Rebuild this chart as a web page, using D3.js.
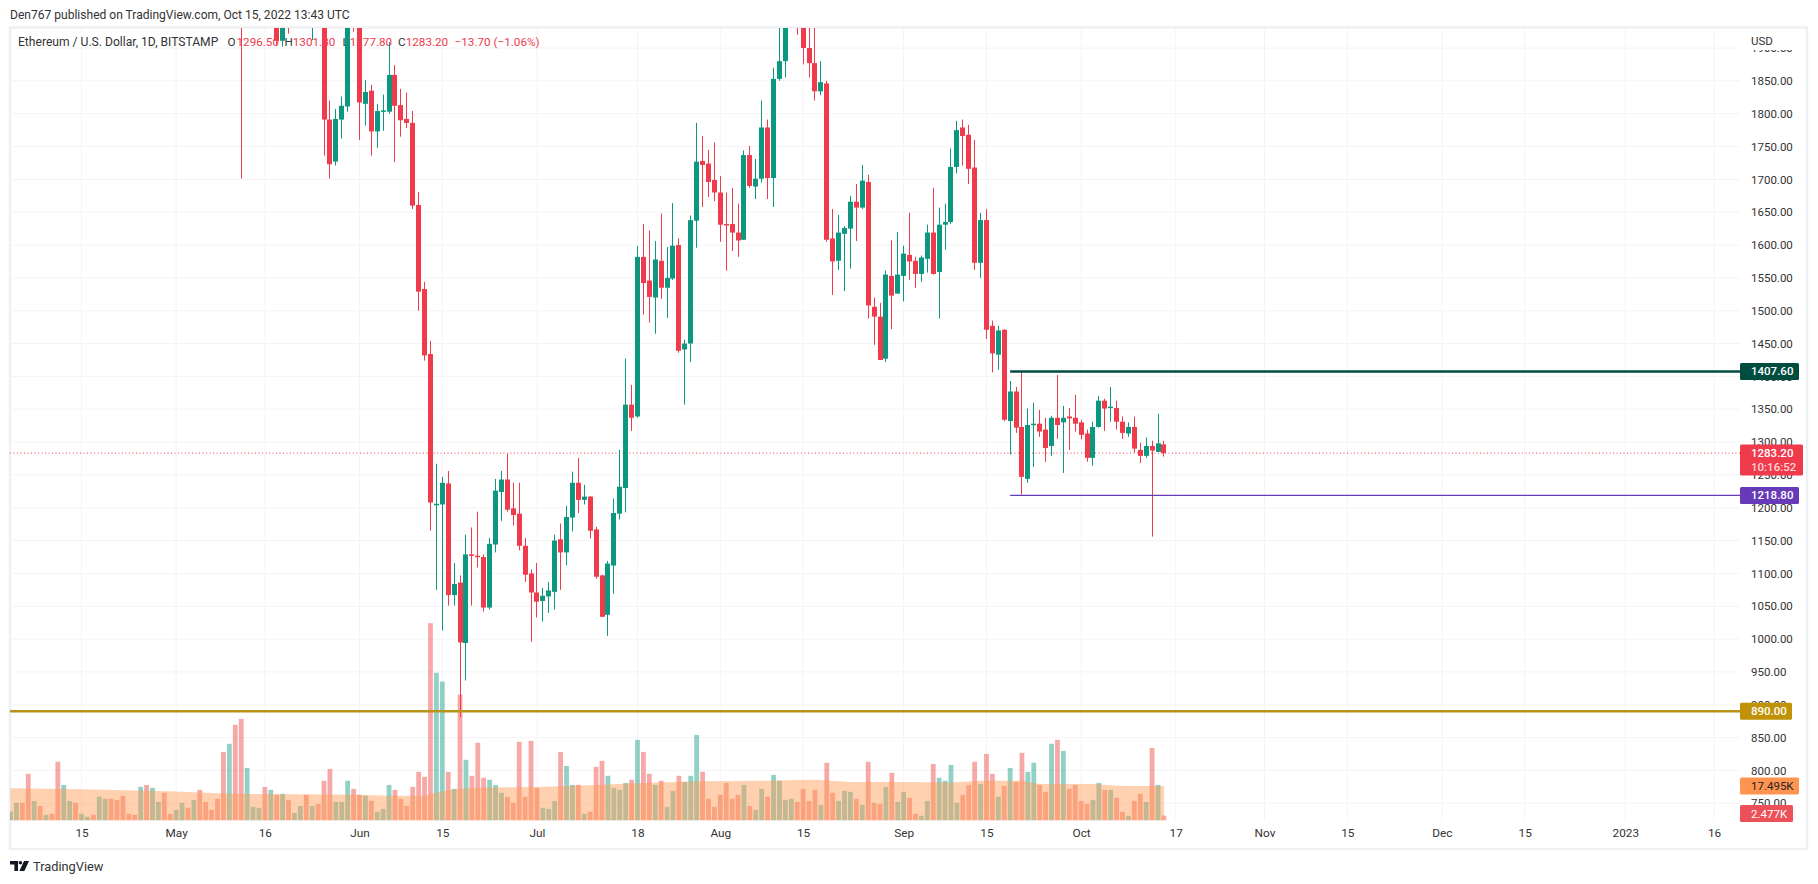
<!DOCTYPE html>
<html>
<head>
<meta charset="utf-8">
<script src="https://cdnjs.cloudflare.com/ajax/libs/d3/7.8.5/d3.min.js"></script>
<style>
  html, body { margin: 0; background: #fff; overflow: hidden; }
  text { font-family: Roboto, sans-serif; font-size: 11.5px; fill: #131722; }
</style>
</head>
<body>
<script>
const width = 1818, height = 884;
const pane = {left: 10, right: 1740, top: 28, bottom: 820.5};

// daily candles, May 12 to Oct 15 2022. one line per month
const candleStart = "2022-05-12";
const opens = [
  2080,1960,2012,2050,2145,2024,2090,1911,2017,1960,1975,2040,1972,1978,1942,1791,1727,1791,1811,1995,
  1942,1815,1835,1773,1803,1803,1859,1813,1792,1786,1661,1533,1434,1204,1205,1237,1067,1086,994,1129,1127,1125,1048,1144,1224,1243,1199,1191,1142,1100,
  1071,1058,1065,1072,1152,1132,1185,1238,1212,1217,1167,1097,1037,1112,1191,1230,1357,1339,1582,1546,1520,1576,1535,1549,1600,1441,1450,1637,1728,1724,1699,
  1680,1632,1632,1619,1608,1737,1689,1701,1779,1702,1853,1880,1958,1984,1935,1900,1877,1834,1846,1610,1576,1617,1625,1666,1657,1696,1506,1491,1427,1553,1526,
  1553,1585,1576,1556,1579,1619,1559,1631,1635,1719,1779,1768,1718,1573,1638,1477,1433,1471,1332,1377,1323,1244,1326,1328,1319,1294,1337,1330,1339,1337,
  1330,1313,1276,1323,1363,1352,1352,1331,1313,1323,1288,1279,1294,1285,1296.5
];
const highs = [
  2160,2145,2063,2150,2150,2115,2100,2020,2060,1985,2050,2080,1985,2015,1995,1820,1807,1826,2005,2010,
  1975,1851,1844,1815,1829,1909,1874,1838,1832,1804,1681,1544,1454,1267,1247,1256,1116,1097,1159,1170,1194,1129,1154,1244,1256,1282,1238,1238,1154,1106,
  1116,1078,1087,1159,1176,1203,1255,1276,1235,1218,1171,1098,1119,1214,1288,1427,1387,1599,1632,1622,1606,1648,1597,1664,1610,1456,1645,1786,1766,1745,1756,
  1705,1680,1687,1663,1744,1751,1731,1820,1791,1870,1942,1960,2020,2030,2010,1945,1960,1880,1850,1655,1646,1629,1675,1693,1722,1707,1520,1512,1561,1607,1620,
  1599,1649,1582,1584,1631,1687,1657,1663,1747,1789,1791,1783,1760,1649,1655,1485,1477,1472,1393,1384,1407,1351,1360,1349,1337,1340,1402,1355,1352,1372,
  1334,1319,1331,1370,1366,1384,1363,1339,1330,1339,1299,1307,1302,1343,1301.8
];
const lows = [
  1701,1950,1960,2000,1990,2012,1905,1902,1922,1945,1965,1950,1912,1945,1736,1701,1721,1762,1803,1925,
  1760,1782,1736,1748,1774,1800,1726,1765,1778,1655,1500,1424,1165,1075,1013,1051,1051,881,937,1051,1109,1042,1045,1132,1180,1194,1173,1135,1087,996,
  1033,1027,1040,1045,1075,1112,1164,1192,1205,1153,1092,1034,1005,1069,1182,1193,1317,1337,1494,1482,1465,1518,1489,1547,1436,1357,1422,1596,1658,1673,1667,
  1605,1561,1591,1582,1608,1687,1670,1695,1670,1658,1850,1855,1950,1920,1875,1855,1820,1828,1605,1524,1562,1530,1564,1606,1655,1488,1448,1425,1422,1472,1526,
  1514,1547,1535,1544,1558,1555,1488,1593,1632,1709,1721,1693,1562,1550,1457,1406,1410,1332,1281,1314,1220,1238,1262,1308,1270,1279,1305,1253,1288,1316,
  1304,1270,1264,1322,1317,1331,1319,1305,1308,1284,1268,1276,1156,1285,1277.8
];
const closes = [
  1960,2012,2050,2145,2024,2090,1911,2017,1960,1975,2040,1972,1978,1942,1791,1723,1792,1812,1995,1942,
  1817,1833,1773,1804,1805,1859,1812,1790,1786,1660,1529,1432,1208,1206,1238,1067,1084,995,1129,1127,1125,1048,1145,1226,1243,1197,1189,1142,1098,1071,
  1057,1066,1074,1150,1132,1186,1238,1212,1217,1165,1095,1034,1115,1192,1232,1357,1337,1582,1542,1521,1578,1535,1550,1599,1439,1450,1638,1727,1722,1696,1680,
  1631,1631,1619,1607,1737,1690,1701,1779,1702,1853,1880,1958,1984,1935,1900,1877,1834,1848,1608,1575,1619,1626,1666,1657,1698,1508,1491,1425,1555,1523,1555,
  1587,1575,1556,1581,1619,1556,1631,1635,1719,1775,1766,1716,1573,1638,1471,1435,1470,1334,1377,1322,1247,1326,1328,1316,1291,1337,1326,1337,1336,1328,
  1311,1276,1323,1363,1351,1354,1331,1314,1323,1290,1279,1294,1287,1298,1283.2
];

// volume in thousands, Apr 3 to Oct 15 2022
const volumeStart = "2022-04-03";
const volumes = [
  4.5,8.9,8.9,23.6,9.9,7.4,2.9,3.4,29.7,18.0,9.9,8.9,3.4,1.9,2.9,12.0,11.0,11.0,10.4,12.5,3.4,2.9,17.0,18.0,16.5,9.4,14.0,3.4,
  5.4,8.9,6.4,10.4,15.5,9.4,5.4,11.0,34.7,38.8,48.4,51.4,26.6,6.9,6.4,17.0,15.5,13.0,13.5,10.4,3.9,7.4,13.0,7.4,8.4,20.1,26.1,9.4,9.4,20.1,16.0,
  13.0,12.5,9.9,4.4,5.9,18.0,15.5,11.0,7.4,17.0,24.6,22.1,99.8,74.7,70.3,24.6,16.0,63.7,30.7,22.6,39.3,21.6,20.6,18.0,14.0,12.0,8.9,39.8,12.0,40.3,
  16.5,6.4,5.9,9.9,34.7,27.6,18.0,18.0,3.4,4.4,27.1,30.2,22.6,16.5,15.5,19.0,20.6,40.8,34.7,23.6,18.0,20.1,6.9,15.0,22.6,19.5,22.6,43.3,24.6,11.0,6.9,
  13.0,19.0,11.0,13.0,18.0,7.4,5.4,16.0,12.0,23.1,20.1,10.4,11.0,9.4,16.0,9.9,15.5,7.9,29.2,14.0,9.9,15.0,14.5,11.0,7.9,29.7,8.9,8.4,17.0,24.1,9.4,
  14.5,11.5,3.4,2.4,9.9,28.6,21.6,20.1,28.1,8.9,13.0,18.0,29.7,18.5,33.7,23.6,12.0,17.5,26.6,19.5,34.2,24.6,29.2,18.0,14.5,38.8,40.8,35.2,16.0,18.0,
  9.9,8.4,10.4,19.0,15.5,15.5,11.5,4.4,2.4,9.9,13.5,9.4,36.7,18.0,2.477
];
const volumeDirs = ("ggrrgrgrrggrggrggrrrrrgrggrr" + "ggrgrrrrrgrrgggrgrgrggrgrrrgggr" + "rgrgggrrrrrrrggrgrgrrrgggrrrrr" +
  "rgggrggrgrrrggggrgrrgrggrgggrrr" + "rrrrgrggrggggrrrrgrrgggrgrrrgrg" + "grrggrggggrrrgrrgrgrrggrrgrgrr" + "rrggrgrrgrrgrgr").split("");

// volume moving average
const maDates = ["2022-04-03","2022-04-15","2022-04-30","2022-05-05","2022-05-09","2022-05-20","2022-06-01","2022-06-06","2022-06-12","2022-06-14","2022-06-17","2022-06-22","2022-07-01","2022-07-11","2022-07-18","2022-07-28","2022-08-10","2022-08-17","2022-08-23","2022-09-01","2022-09-09","2022-09-14","2022-09-21","2022-09-24","2022-10-03","2022-10-08","2022-10-15"];
const maValues = [16.3,15.8,14.8,14.2,13.6,13.3,13.0,12.5,12.5,14.2,15.8,16.7,17.0,18.0,18.9,19.9,20.2,20.6,19.5,19.5,19.2,20.1,20.1,18.5,18.4,17.5,17.495];

const priceTicks = [1900,1850,1800,1750,1700,1650,1600,1550,1500,1450,1400,1350,1300,1250,1200,1150,1100,1050,1000,950,900,850,800,750];
const timeTicks = ["2022-04-15","2022-05-01","2022-05-16","2022-06-01","2022-06-15","2022-07-01","2022-07-18","2022-08-01","2022-08-15","2022-09-01","2022-09-15","2022-10-01","2022-10-17","2022-11-01","2022-11-15","2022-12-01","2022-12-15","2023-01-01","2023-01-16"];
const timeLabels = ["15","May","16","Jun","15","Jul","18","Aug","15","Sep","15","Oct","17","Nov","15","Dec","15","2023","16"];

const levelValues = [1407.6, 1218.8, 890];
const levelColors = ["#004d40", "#673ab7", "#b8941a"];
const lastPrice = 1283.2;
const RED = "#ef3b4c", GREEN = "#0c9880", VOL_RED = "#ef5350";

const parseDay = d3.utcParse("%Y-%m-%d");
const addDays = (s, i) => d3.utcDay.offset(parseDay(s), i);

const candles = opens.map((o, i) => ({date: addDays(candleStart, i), o, h: highs[i], l: lows[i], c: closes[i]}));
const bars = volumes.map((v, i) => ({date: addDays(volumeStart, i), v, dir: volumeDirs[i]}));
const maPoints = maDates.map((d, i) => ({date: parseDay(d), v: maValues[i]}));

const x = d3.scaleUtc()
  .domain([parseDay("2022-04-15"), parseDay("2023-01-16")])
  .range([81.5, 1714]);
const y = d3.scaleLinear()
  .domain([1900, 750])
  .range([48, 803.3]);
const yVol = d3.scaleLinear()
  .domain([0, 100])
  .range([pane.bottom, pane.bottom - 197.7]);
// snap to the pixel grid so wicks stay 1px wide
const xPx = d => Math.round(x(d) - 0.5) + 0.5;

const svg = d3.select("body").append("svg")
  .attr("width", width)
  .attr("height", height);

svg.append("defs").append("clipPath").attr("id", "paneClip")
  .append("rect")
  .attr("x", pane.left).attr("y", pane.top)
  .attr("width", pane.right - pane.left).attr("height", pane.bottom - pane.top);

// header
svg.append("text").attr("x", 10).attr("y", 19)
  .style("font-size", "12.05px").style("fill", "#333")
  .text("Den767 published on TradingView.com, Oct 15, 2022 13:43 UTC");

// frame
svg.append("rect")
  .attr("x", 10).attr("y", 27.5)
  .attr("width", 1797).attr("height", 821.5)
  .attr("fill", "none").attr("stroke", "#eef0f3").attr("stroke-width", 2.5);

// grid
svg.append("g").selectAll("line").data(priceTicks).join("line")
  .attr("x1", pane.left).attr("x2", pane.right)
  .attr("y1", d => y(d)).attr("y2", d => y(d))
  .attr("stroke", "#f3f4f6");
svg.append("g").selectAll("line").data(timeTicks).join("line")
  .attr("x1", d => x(parseDay(d))).attr("x2", d => x(parseDay(d)))
  .attr("y1", pane.top).attr("y2", pane.bottom)
  .attr("stroke", "#f3f4f6");

// legend sits under the candles
const legendItems = [
  ["Ethereum / U.S. Dollar, 1D, BITSTAMP", 18, "#333", 12.1],
  ["O", 227.5, "#333", 11.7], ["1296.50", 236.5, RED, 11.7],
  ["H", 284.5, "#333", 11.7], ["1301.80", 292.8, RED, 11.7],
  ["L", 342.5, "#333", 11.7], ["1277.80", 349.7, RED, 11.7],
  ["C", 398, "#333", 11.7], ["1283.20", 405.7, RED, 11.7],
  ["\u221213.70 (\u22121.06%)", 454.6, RED, 11.7]
];
svg.append("g").selectAll("text").data(legendItems).join("text")
  .attr("x", d => d[1]).attr("y", 46)
  .style("font-size", d => d[3] + "px")
  .style("fill", d => d[2])
  .text(d => d[0]);

const plot = svg.append("g").attr("clip-path", "url(#paneClip)");

// volume
plot.append("g").selectAll("rect").data(bars).join("rect")
  .attr("x", d => x(d.date) - 2.4)
  .attr("width", 4.8)
  .attr("y", d => yVol(d.v))
  .attr("height", d => yVol(0) - yVol(d.v))
  .attr("fill", d => d.dir === "g" ? GREEN : VOL_RED)
  .attr("fill-opacity", d => d.dir === "g" ? 0.45 : 0.5);

const maArea = d3.area()
  .x(d => x(d.date))
  .y0(yVol(0))
  .y1(d => yVol(d.v));
plot.append("path")
  .datum(maPoints)
  .attr("d", maArea)
  .attr("fill", "#ff9850")
  .attr("fill-opacity", 0.45);

// last price line
plot.append("line")
  .attr("x1", pane.left).attr("x2", pane.right)
  .attr("y1", y(lastPrice)).attr("y2", y(lastPrice))
  .attr("stroke", RED).attr("stroke-dasharray", "1 2.5");

// candles
const candle = plot.append("g").selectAll("g").data(candles).join("g")
  .attr("fill", d => d.c >= d.o ? GREEN : RED)
  .attr("stroke", d => d.c >= d.o ? GREEN : RED);
candle.append("line")
  .attr("x1", d => xPx(d.date)).attr("x2", d => xPx(d.date))
  .attr("y1", d => y(d.h)).attr("y2", d => y(d.l));
candle.append("rect")
  .attr("stroke", "none")
  .attr("x", d => xPx(d.date) - 2.5)
  .attr("width", 5)
  .attr("y", d => y(Math.max(d.o, d.c)))
  .attr("height", d => Math.max(1.5, Math.abs(y(d.o) - y(d.c))));

// horizontal levels
const levelStart = [parseDay("2022-09-19"), parseDay("2022-09-19"), null];
const levelWidth = [2.5, 1.3, 2.5];
plot.append("g").selectAll("line").data(levelValues).join("line")
  .attr("x1", (d, i) => levelStart[i] ? x(levelStart[i]) : pane.left)
  .attr("x2", pane.right)
  .attr("y1", d => y(d)).attr("y2", d => y(d))
  .attr("stroke", (d, i) => levelColors[i])
  .attr("stroke-width", (d, i) => levelWidth[i]);

// price axis
const priceAxis = d3.axisRight(y)
  .tickValues(priceTicks)
  .tickFormat(d3.format(".2f"))
  .tickSize(0)
  .tickPadding(11);
const priceG = svg.append("g")
  .attr("transform", `translate(${pane.right},0)`)
  .call(priceAxis);
priceG.select(".domain").remove();
priceG.selectAll("text").style("font-size", "11.5px").style("fill", "#333").style("font-family", "Roboto, sans-serif");

svg.append("rect").attr("x", pane.right + 1).attr("y", 29).attr("width", 60).attr("height", 21).attr("fill", "#fff");
svg.append("text").attr("x", 1751).attr("y", 45).style("font-size", "11.5px").style("fill", "#333").text("USD");

// time axis
const timeAxis = d3.axisBottom(x)
  .tickValues(timeTicks.map(parseDay))
  .tickFormat((d, i) => timeLabels[i])
  .tickSize(0)
  .tickPadding(8);
const timeG = svg.append("g")
  .attr("transform", `translate(0,${pane.bottom})`)
  .call(timeAxis);
timeG.select(".domain").remove();
timeG.selectAll("text").style("font-size", "11.8px").style("fill", "#333").style("font-family", "Roboto, sans-serif");

// axis tags
const tags = [
  {text: "1407.60", val: 1407.6, w: 59, fill: "#004d40", col: "#fff"},
  {text: "1218.80", val: 1218.8, w: 59, fill: "#673ab7", col: "#fff"},
  {text: "890.00", val: 890, w: 52, fill: "#bf9207", col: "#fff"}
];
const tagG = svg.append("g").selectAll("g").data(tags).join("g")
  .attr("transform", d => `translate(${pane.right},${y(d.val)})`);
tagG.append("rect")
  .attr("y", -8.5).attr("height", 17).attr("width", d => d.w).attr("rx", 1.5)
  .attr("fill", d => d.fill);
tagG.append("text")
  .attr("x", 11).attr("dy", "0.35em")
  .style("font-weight", 500)
  .style("fill", d => d.col)
  .text(d => d.text);

const lastTag = svg.append("g").attr("transform", `translate(${pane.right},${y(lastPrice)})`);
lastTag.append("rect").attr("y", -8.5).attr("width", 63).attr("height", 31).attr("rx", 1.5).attr("fill", RED);
lastTag.append("text").attr("x", 11).attr("dy", "0.35em").style("font-weight", 500).style("fill", "#fff").text("1283.20");
lastTag.append("text").attr("x", 11).attr("y", 14).attr("dy", "0.35em").style("font-weight", 500).style("fill", "#fcd5d8").text("10:16:52");

const volTags = [
  {text: "17.495K", y: yVol(17.495), w: 59, fill: "#ff9350", col: "#222"},
  {text: "2.477K", y: yVol(2.477) - 2, w: 53, fill: "#ec5058", col: "#fff"}
];
const volG = svg.append("g").selectAll("g").data(volTags).join("g")
  .attr("transform", d => `translate(${pane.right},${d.y})`);
volG.append("rect").attr("y", -8.5).attr("height", 17).attr("width", d => d.w).attr("rx", 1.5).attr("fill", d => d.fill);
volG.append("text").attr("x", 11).attr("dy", "0.35em").style("fill", d => d.col).text(d => d.text);

// logo
const logo = svg.append("g").attr("fill", "#131722");
logo.append("path").attr("d", "M10 861h8v10h-3.6v-6.6H10z");
logo.append("circle").attr("cx", 20.4).attr("cy", 862.8).attr("r", 1.8);
logo.append("path").attr("d", "M24 861h5l-4.6 10h-5z");
svg.append("text").attr("x", 33).attr("y", 871).style("font-size", "12.8px").style("fill", "#333").text("TradingView");
</script>
</body>
</html>
